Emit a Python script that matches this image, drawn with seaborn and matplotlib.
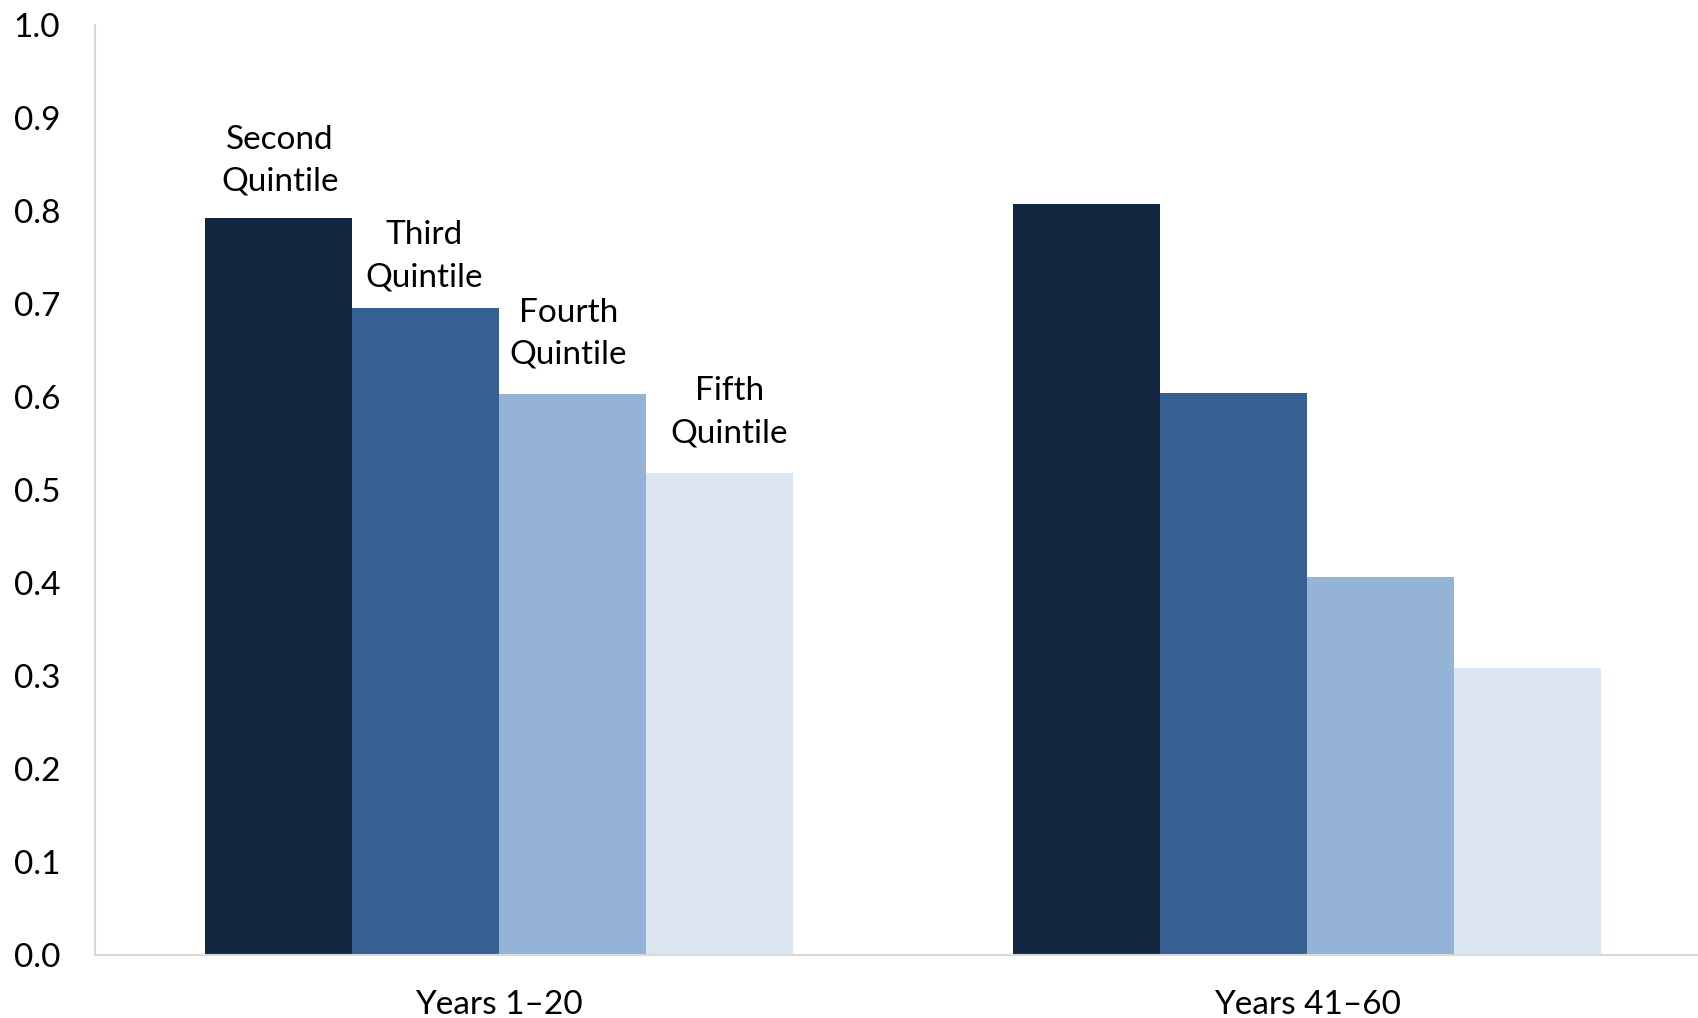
import matplotlib
matplotlib.use("Agg")
import matplotlib.pyplot as plt
import seaborn as sns
import pandas as pd

# Data
periods = ["Years 1\u201320", "Years 41\u201360"]
quintiles = ["Second\nQuintile", "Third\nQuintile", "Fourth\nQuintile", "Fifth\nQuintile"]
years_1_20 = [0.793, 0.696, 0.603, 0.518]
years_41_60 = [0.808, 0.604, 0.406, 0.309]
y_ticks = [0.0, 0.1, 0.2, 0.3, 0.4, 0.5, 0.6, 0.7, 0.8, 0.9, 1.0]

colors = ["#132640", "#376092", "#95B3D7", "#DCE6F2"]

# Label nudges (points) relative to each bar's top centre
label_dx = [1, -1, -3, 7]
label_dy = [15, 11, 17.5, 18]

df = pd.DataFrame({
    "period": [periods[0]] * 4 + [periods[1]] * 4,
    "quintile": quintiles * 2,
    "value": years_1_20 + years_41_60,
})

sns.set_theme(style="white")
plt.rcParams["font.family"] = ["Lato", "DejaVu Sans"]

fig = plt.figure(figsize=(16.99, 10.18), dpi=100)
ax = fig.add_axes([0.0559, 0.0619, 0.9441, 0.9135])

sns.barplot(data=df, x="period", y="value", hue="quintile", order=periods,
            hue_order=quintiles, palette=colors, width=0.728, gap=0,
            linewidth=0, saturation=1, legend=False, ax=ax)

ax.set_ylim(0, 1.0)
ax.set_xlim(-0.5, 1.485)
ax.set_yticks(y_ticks)
ax.set_yticklabels([f"{t:.1f}" for t in y_ticks])
ax.set_xlabel("")
ax.set_ylabel("")

grey = "#D9D9D9"
for side in ["top", "right"]:
    ax.spines[side].set_visible(False)
for side in ["left", "bottom"]:
    ax.spines[side].set_color(grey)
    ax.spines[side].set_linewidth(1.5)

ax.tick_params(axis="y", direction="in", length=8.5, width=1.5, color=grey,
               pad=25, labelsize=24, labelcolor="black")
ax.tick_params(axis="x", length=0, pad=25.5, labelsize=24, labelcolor="black")

# Quintile labels above the first group's bars
for container, name, dx, dy in zip(ax.containers, quintiles, label_dx, label_dy):
    bar = container.patches[0]
    ax.annotate(name, xy=(bar.get_x() + bar.get_width() / 2, bar.get_height()),
                xytext=(dx, dy), textcoords="offset points", ha="center",
                va="bottom", fontsize=24, linespacing=1.5, color="black")

fig.savefig("out.png", dpi=100)
